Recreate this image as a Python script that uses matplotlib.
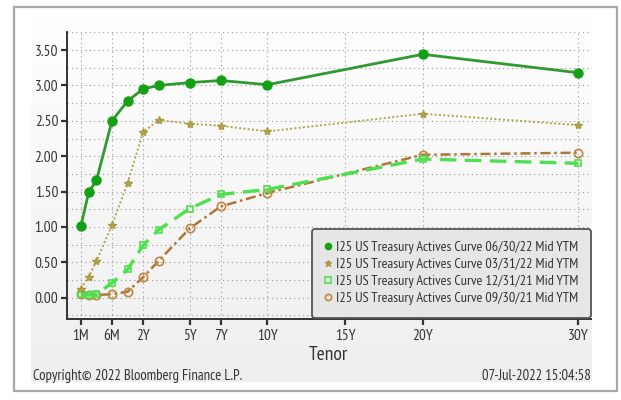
import numpy as np
import matplotlib
matplotlib.use("Agg")
import matplotlib.pyplot as plt
from matplotlib.ticker import FixedLocator, FixedFormatter, MultipleLocator, FormatStrFormatter
from matplotlib.patches import Rectangle

plt.rcParams['font.family'] = ['PT Sans Narrow', 'DejaVu Sans']

# Tenors in years and their axis labels
tenors = [1/12, 2/12, 3/12, 0.5, 1, 2, 3, 5, 7, 10, 20, 30]
tick_tenors = [1/12, 0.5, 2, 5, 7, 10, 15, 20, 30]
tick_labels = ["1M", "6M", "2Y", "5Y", "7Y", "10Y", "15Y", "20Y", "30Y"]

# Mid yields (%) per curve date
curve_2022_06_30 = [1.02, 1.49, 1.66, 2.50, 2.78, 2.95, 3.00, 3.04, 3.07, 3.01, 3.44, 3.18]
curve_2022_03_31 = [0.13, 0.30, 0.52, 1.03, 1.62, 2.34, 2.51, 2.46, 2.43, 2.35, 2.60, 2.44]
curve_2021_12_31 = [0.05, 0.04, 0.05, 0.21, 0.40, 0.74, 0.96, 1.26, 1.46, 1.53, 1.96, 1.90]
curve_2021_09_30 = [0.06, 0.04, 0.04, 0.05, 0.085, 0.29, 0.52, 0.98, 1.29, 1.48, 2.02, 2.05]

legend_labels = [
    "I25 US Treasury Actives Curve 06/30/22 Mid YTM",
    "I25 US Treasury Actives Curve 03/31/22 Mid YTM",
    "I25 US Treasury Actives Curve 12/31/21 Mid YTM",
    "I25 US Treasury Actives Curve 09/30/21 Mid YTM",
]

# Piecewise tenor scale: 1M..3M..6M..1Y in equal slots, then linear in years
_T = np.array([-5.0, 1/12, 0.25, 0.5, 1.0, 60.0])
_P = np.array([-6 * (5 + 1/12), 0.0, 1.0, 2.0, 3.0, 62.0])

def tenor_fwd(t):
    return np.interp(t, _T, _P)

def tenor_inv(p):
    return np.interp(p, _P, _T)

W, H = 621, 400
fig = plt.figure(figsize=(W / 100, H / 100), dpi=100)
fig.patch.set_facecolor("white")

# Chart panel with a soft vertical gradient
bg = fig.add_axes([31 / W, 1 - 382 / H, 561 / W, 367 / H], zorder=-1)
grad = np.linspace(1.0, 0.935, 256)[:, None]
bg.imshow(np.dstack([grad, grad, grad]), aspect="auto", extent=[0, 1, 0, 1])
bg.set_axis_off()

# Outer frame
fig.patches.append(Rectangle((14 / W, 1 - 391 / H), 603 / W, 384 / H, transform=fig.transFigure,
                             facecolor="none", edgecolor="#a8a8a8", lw=1.6, zorder=10))

ax = fig.add_axes([66.5 / W, 1 - 319 / H, 524.5 / W, 287 / H])
ax.set_facecolor("none")
ax.set_xscale("function", functions=(tenor_fwd, tenor_inv))
ax.set_xlim(tenor_inv(-0.93), tenor_inv(32.84))
ax.set_ylim(-0.30, 3.755)

ax.plot(tenors, curve_2022_06_30, color="#2f9a2f", lw=2.0, marker="o", ms=6.5,
        mfc="#14a014", mec="#14a014", label=legend_labels[0], zorder=6)
ax.plot(tenors, curve_2022_03_31, color="#b0a248", lw=1.4, ls=(0, (1, 1.2)), marker="*", ms=6,
        mfc="#b7a650", mec="#a89a40", label=legend_labels[1], zorder=5)
ax.plot(tenors, curve_2021_12_31, color="#4ee04e", lw=2.4, ls=(0, (5, 2.5)), marker="s", ms=5,
        mfc="none", mec="#4ee04e", mew=1.2, label=legend_labels[2], zorder=4)
ax.plot(tenors, curve_2021_09_30, color="#ad7638", lw=1.8, ls=(0, (4, 1.5, 1, 1.5)), marker="o", ms=6,
        mfc="none", mec="#c0873e", mew=1.2, label=legend_labels[3], zorder=3)

# Axes styling
for s in ("top", "right"):
    ax.spines[s].set_visible(False)
for s in ("left", "bottom"):
    ax.spines[s].set_color("#333333")
    ax.spines[s].set_linewidth(1.4)

ax.xaxis.set_major_locator(FixedLocator(tick_tenors))
ax.xaxis.set_major_formatter(FixedFormatter(tick_labels))
ax.xaxis.set_minor_locator(FixedLocator([]))
ax.yaxis.set_major_locator(FixedLocator([0, 0.5, 1.0, 1.5, 2.0, 2.5, 3.0, 3.5]))
ax.yaxis.set_minor_locator(MultipleLocator(0.25))
ax.yaxis.set_major_formatter(FormatStrFormatter("%.2f"))

ax.tick_params(axis="both", which="major", labelsize=11, colors="#333333", length=4, width=1.6,
               direction="out", pad=2)
ax.tick_params(axis="y", which="minor", length=0)
ax.tick_params(axis="x", pad=3)

ax.grid(True, which="major", axis="x", color="#999999", lw=0.8, ls=(0, (1, 3)))
ax.grid(True, which="both", axis="y", color="#999999", lw=0.8, ls=(0, (1, 3)))
ax.set_axisbelow(True)

ax.set_xlabel("Tenor", fontsize=14, color="#333333", labelpad=2)

leg = ax.legend(loc="lower right", bbox_to_anchor=(1.0, 0.005), fontsize=10.3, frameon=True,
                fancybox=True, facecolor="#e6e6e6", edgecolor="#555555", framealpha=1.0,
                handlelength=0.5, handletextpad=0.35, labelspacing=0.28, borderpad=0.85,
                borderaxespad=0.0)
for h in leg.legend_handles:
    h.set_linestyle("none")
    h.set_markersize(4.5)
leg.get_frame().set_linewidth(1.3)
for t in leg.get_texts():
    t.set_color("#333333")

fig.text(33 / W, 1 - 376 / H, "Copyright\u00a9 2022 Bloomberg Finance L.P.", fontsize=10.5,
         color="#333333", va="center", ha="left")
fig.text(591 / W, 1 - 376 / H, "07-Jul-2022 15:04:58", fontsize=10.5,
         color="#333333", va="center", ha="right")

fig.savefig("out.png", dpi=100)
